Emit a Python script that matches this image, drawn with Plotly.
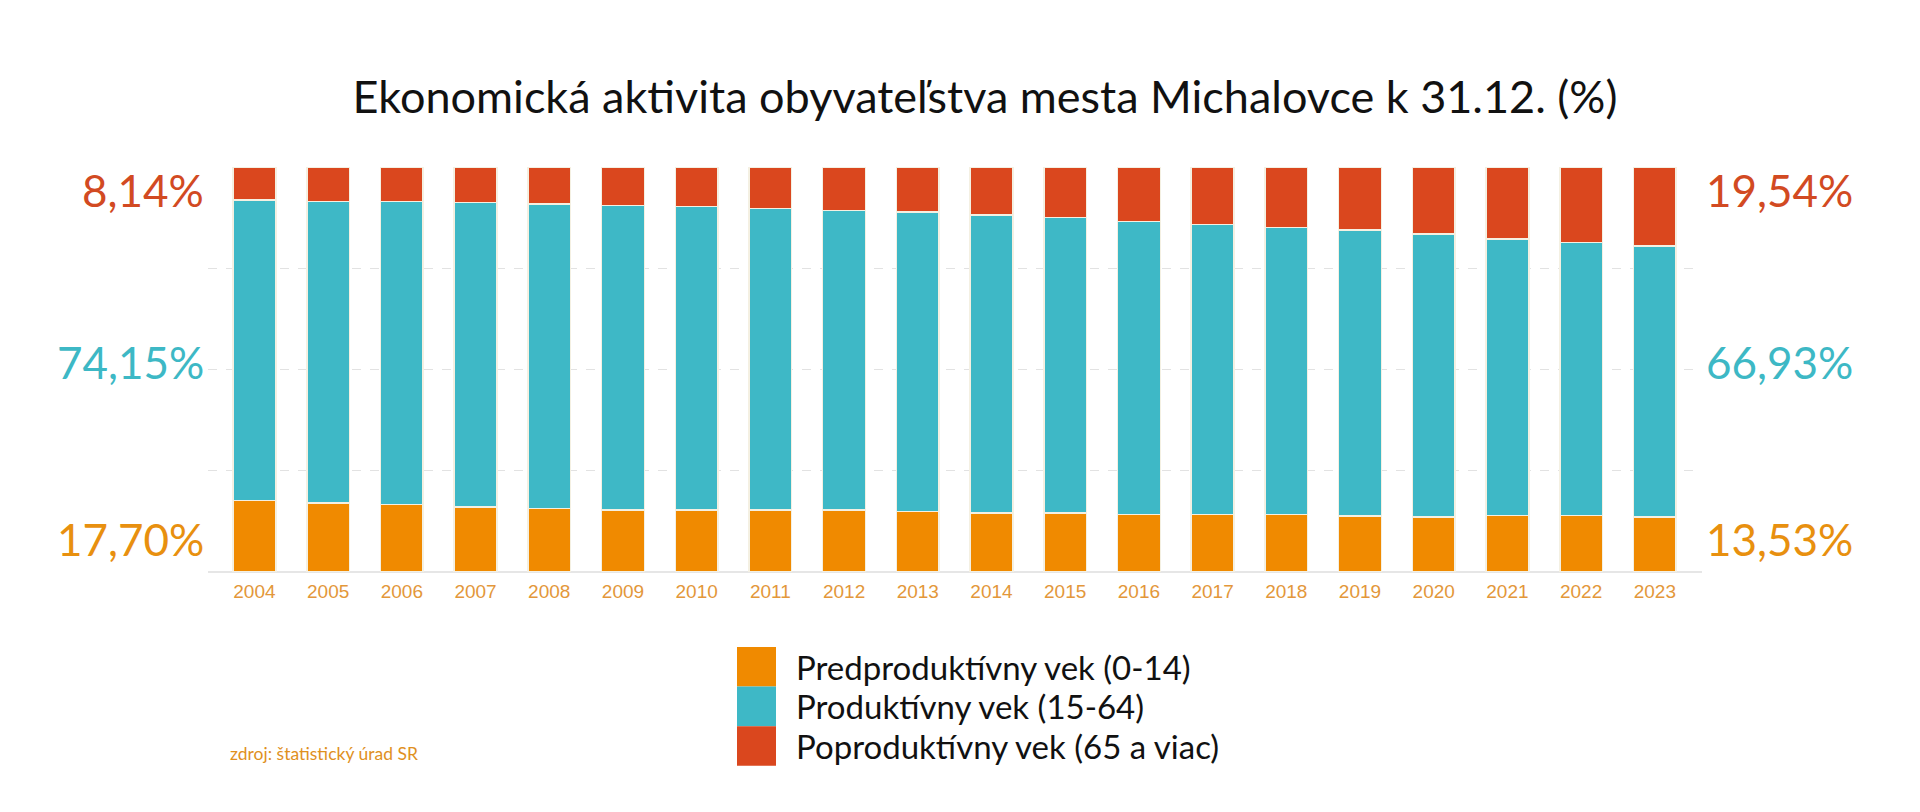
import plotly.graph_objects as go

years = [str(y) for y in range(2004, 2024)]

# podiel obyvatelov podla veku (%), odcitane z grafu
predproduktivny = [17.70, 17.08, 16.72, 16.05, 15.69, 15.36, 15.28, 15.28, 15.28, 14.92,
                   14.59, 14.52, 14.26, 14.26, 14.26, 13.82, 13.57, 13.90, 13.90, 13.53]
produktivny = [74.15, 74.45, 74.78, 75.16, 75.17, 75.10, 74.93, 74.52, 73.92, 73.98,
               73.51, 73.03, 72.24, 71.54, 70.84, 70.68, 69.83, 68.35, 67.50, 66.93]
poproduktivny = [8.14, 8.47, 8.50, 8.79, 9.14, 9.54, 9.79, 10.20, 10.80, 11.10,
                 11.90, 12.45, 13.50, 14.20, 14.90, 15.50, 16.60, 17.75, 18.60, 19.54]

names = ["Predproduktívny vek (0-14)", "Produktívny vek (15-64)", "Poproduktívny vek (65 a viac)"]
bar_colors = ["#F08A00", "#3EB8C6", "#DA471E"]
label_colors = ["#E8900F", "#3DB8C5", "#D24A22"]

W, H = 1920, 812
ml, mr, mt, mb = 200, 226, 159, 248
pw = W - ml - mr
ph = H - mt - mb

def px_x(x):
    return (x - ml) / pw

def px_y(y):
    return (H - mb - y) / ph

fig = go.Figure()
for vals, name, col in zip([predproduktivny, produktivny, poproduktivny], names, bar_colors):
    fig.add_trace(go.Bar(
        x=years, y=vals, name=name,
        marker=dict(color=col, line=dict(color="#f4f0e2", width=1.5)),
        showlegend=False,
    ))

# bocne popisky (prvy a posledny rok)
series = [predproduktivny, produktivny, poproduktivny]
label_y = [531, 354, 182]
for vals, col, ly in zip(series, label_colors, label_y):
    first = f"{vals[0]:.2f}%".replace(".", ",")
    last = f"{vals[-1]:.2f}%".replace(".", ",")
    fig.add_annotation(x=px_x(198), y=px_y(ly), xref="paper", yref="paper",
                       text=first, showarrow=False, xanchor="right", yanchor="middle",
                       font=dict(family="Lato", size=44, color=col))
    fig.add_annotation(x=px_x(1696), y=px_y(ly), xref="paper", yref="paper",
                       text=last, showarrow=False, xanchor="left", yanchor="middle",
                       font=dict(family="Lato", size=44, color=col))

# vlastna legenda
sw_h = 39.6
for i, (name, col) in enumerate(zip(names, bar_colors)):
    top = 639 + i * sw_h
    fig.add_shape(type="rect", xref="paper", yref="paper",
                  x0=px_x(729), x1=px_x(768), y0=px_y(top), y1=px_y(top + sw_h),
                  fillcolor=col, line=dict(width=0))
    fig.add_annotation(x=px_x(786), y=px_y(top + sw_h / 2), xref="paper", yref="paper",
                       text=name, showarrow=False, xanchor="left", yanchor="middle",
                       font=dict(family="Lato", size=33, color="#111111"))

fig.add_annotation(x=px_x(220), y=px_y(745), xref="paper", yref="paper",
                   text="zdroj: štatistický úrad SR", showarrow=False,
                   xanchor="left", yanchor="middle",
                   font=dict(family="Lato", size=17.5, color="#E0901E"))

fig.update_layout(
    width=W, height=H,
    barmode="stack", bargap=0.42,
    plot_bgcolor="white", paper_bgcolor="white",
    margin=dict(l=ml, r=mr, t=mt, b=mb),
    title=dict(text="Ekonomická aktivita obyvateľstva mesta Michalovce k 31.12. (%)",
               x=977 / W, y=1 - 89 / H, xanchor="center", yanchor="middle",
               font=dict(family="Lato", size=45, color="#111111")),
    xaxis=dict(range=[-0.63, 19.64], showgrid=False, showline=False, ticks="",
               ticklabelstandoff=6,
               tickfont=dict(family="Liberation Sans", size=19, color="#E3973A")),
    yaxis=dict(range=[0, 100], tickvals=[0, 25, 50, 75, 100], showticklabels=False,
               showgrid=True, gridcolor="#e2e2e2", griddash="dash", gridwidth=1,
               zeroline=True, zerolinecolor="#e6e6e6", zerolinewidth=2),
)

fig.write_html("out.html")
